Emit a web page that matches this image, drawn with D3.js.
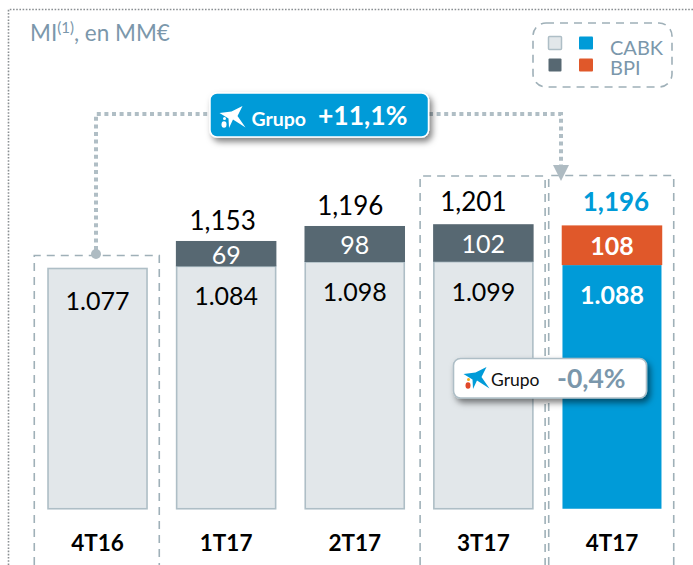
<!DOCTYPE html>
<html><head><meta charset="utf-8">
<script src="https://cdnjs.cloudflare.com/ajax/libs/d3/7.8.5/d3.min.js"></script>
<style>html,body{margin:0;padding:0;background:#fff}svg{display:block}text{font-family:Lato,"Open Sans",sans-serif}</style>
</head><body><div id="c"></div>
<script>
const quarters = ["4T16","1T17","2T17","3T17","4T17"];
const cabk = [1077,1084,1098,1099,1088];
const bpi = [0,69,98,102,108];
const cabkLabels = ["1.077","1.084","1.098","1.099","1.088"];
const bpiLabels = ["","69","98","102","108"];
const totalLabels = ["","1,153","1,196","1,201","1,196"];
const legendItems = ["CABK","BPI"];
const growthLabels = ["+11,1%","-0,4%"];

const W=693,H=565;
const BLUE="#009bd8",ORANGE="#e0582a",SLATE="#576872",LIGHT="#e2e7ea",EDGE="#aebec6",DASH="#9fb0b8",TXT="#7b97ab";
const svg=d3.select("#c").append("svg").attr("width",W).attr("height",H);
const defs=svg.append("defs");
const f=defs.append("filter").attr("id","sh").attr("x","-10%").attr("y","-30%").attr("width","125%").attr("height","170%");
f.append("feDropShadow").attr("dx",3).attr("dy",4).attr("stdDeviation",3).attr("flood-color","#000").attr("flood-opacity",.5);

// scales: the source's bars are not to a common scale, so CABK and BPI each get their own
const x=d3.scaleBand().domain(quarters).range([33.25,676.25]).paddingInner(.2185).paddingOuter(.109);
const baseY=509.5;
const yCabk=d3.scaleLinear().domain([1077,1099]).range([241,247.8]);
const hBpi=d3.scaleLinear().domain([0,108]).range([0,39.7]);
const topCabk=i=>baseY-yCabk(cabk[i]);
const topAll=i=>topCabk(i)-hBpi(bpi[i]);

// outer dotted frame
svg.append("path").attr("d",`M8.5,${H}V9.5H${W}`).attr("fill","none").attr("stroke","#8a8f92").attr("stroke-width",1.6).attr("stroke-dasharray","1.6 1.6");

// title
const t=svg.append("text").attr("x",30).attr("y",41).attr("fill",TXT).attr("font-size",22.5);
t.append("tspan").text("MI");
t.append("tspan").attr("font-size",15).attr("dy",-8).text("(1)");
t.append("tspan").attr("dy",8).text(", en MM€");

// dashed frames
const dashed=p=>svg.append("path").attr("d",p).attr("fill","none").attr("stroke",DASH).attr("stroke-width",1.6).attr("stroke-dasharray","8 6");
const frame=(q,top)=>{const a=x(q)-13,b=x(q)+x.bandwidth()+11.5;dashed(`M${a},${H}V${top}H${b}V${H}`);};
frame("4T16",255.5);frame("3T17",176);frame("4T17",175.5);

// legend box
svg.append("rect").attr("x",533).attr("y",23).attr("width",139).attr("height",64).attr("rx",13)
 .attr("fill","none").attr("stroke",DASH).attr("stroke-width",1.6).attr("stroke-dasharray","8 6");
const legendCols=[[LIGHT,BLUE],[SLATE,ORANGE]];
legendCols.forEach((row,r)=>{
  row.forEach((c,k)=>svg.append("rect").attr("x",k?579:548.5).attr("y",36.5+r*22).attr("width",k?14:13).attr("height",13).attr("rx",1)
    .attr("fill",c).attr("stroke",c===LIGHT?EDGE:"none").attr("stroke-width",1.5));
  svg.append("text").attr("x",610).attr("y",r?75:55).attr("fill",TXT).attr("font-size",20).text(legendItems[r]);
});

// connector
const conn=svg.append("g").attr("fill","none").attr("stroke","#b0bec5").attr("stroke-width",4).attr("stroke-dasharray","4 3.6");
conn.append("path").attr("d","M96,250V114H210");
conn.append("path").attr("d","M429,114H561V166");
svg.append("circle").attr("cx",96).attr("cy",254).attr("r",5).attr("fill","#aebbc2");
svg.append("path").attr("d","M553,165H569L561,181Z").attr("fill","#aebbc2");

// bars
const g=svg.selectAll("g.bar").data(quarters).join("g").attr("class","bar");
g.append("rect").attr("x",d=>x(d)+.75).attr("width",x.bandwidth()-1.5)
  .attr("y",(d,i)=>topCabk(i)).attr("height",(d,i)=>baseY-topCabk(i)-.75)
  .attr("fill",(d,i)=>i===4?BLUE:LIGHT).attr("stroke",(d,i)=>i===4?"none":EDGE).attr("stroke-width",1.6);
g.append("rect").attr("x",d=>x(d)).attr("width",x.bandwidth())
  .attr("y",(d,i)=>topAll(i)).attr("height",(d,i)=>hBpi(bpi[i]))
  .attr("fill",(d,i)=>i===4?ORANGE:SLATE);
const cx=d=>x(d)+x.bandwidth()/2;
const totalShift=[0,-3.5,-4.5,-10,4];
g.append("text").attr("x",cx).attr("y",(d,i)=>topCabk(i)+(i===0?31:29)).attr("text-anchor","middle").attr("dominant-baseline","central")
  .attr("font-size",25).attr("font-weight",(d,i)=>i===4?700:400).attr("fill",(d,i)=>i===4?"#fff":"#000").text((d,i)=>cabkLabels[i]);
g.append("text").attr("x",cx).attr("y",(d,i)=>topAll(i)+hBpi(bpi[i])/2).attr("text-anchor","middle").attr("dominant-baseline","central")
  .attr("font-size",25).attr("font-weight",(d,i)=>i===4?700:400).attr("fill","#fff").text((d,i)=>bpiLabels[i]);
g.append("text").attr("x",(d,i)=>cx(d)+totalShift[i]).attr("y",(d,i)=>topAll(i)-(i<3?21:i===3?23:24)).attr("text-anchor","middle").attr("dominant-baseline","central")
  .attr("font-size",26).attr("font-weight",(d,i)=>i===4?700:400).attr("fill",(d,i)=>i===4?BLUE:"#000").text((d,i)=>totalLabels[i]);

// category axis
const ax=svg.append("g").attr("transform","translate(0,542)").call(d3.axisBottom(x).tickSize(0).tickPadding(0));
ax.select(".domain").remove();
ax.selectAll("text").attr("dy",0).attr("y",0).attr("dominant-baseline","central").attr("font-family","Lato").attr("font-size",22.5).attr("font-weight",700).attr("fill","#000");

// logo mark
const logo=(px,py,col,dots)=>{
  const l=svg.append("g").attr("transform",`translate(${px},${py})`);
  l.append("path").attr("d","M0,7 L12,5.5 L23,0 L18,10 L26,21.5 L13.5,13.5 L9.5,22 L9,12.5 Z").attr("fill",col);
  l.append("circle").attr("cx",5).attr("cy",12.5).attr("r",1.5).attr("fill",dots[0]);
  l.append("ellipse").attr("cx",4.5).attr("cy",18.5).attr("rx",2.5).attr("ry",3.2).attr("fill",dots[1]);
};

// blue badge
svg.append("rect").attr("x",210).attr("y",93).attr("width",218.5).attr("height",44).attr("rx",7)
  .attr("fill",BLUE).attr("stroke","#fff").attr("stroke-width",1.5).attr("filter","url(#sh)");
logo(219.5,106,"#fff",["#fff","#fff"]);
svg.append("text").attr("x",251.5).attr("y",126).attr("fill","#fff").attr("font-size",19.5).attr("font-weight",700).text("Grupo");
svg.append("text").attr("x",318).attr("y",125).attr("fill","#fff").attr("font-size",26.5).attr("font-weight",700).text(growthLabels[0]);

// white badge
svg.append("rect").attr("x",453.5).attr("y",358.5).attr("width",193).attr("height",39.5).attr("rx",7)
  .attr("fill","#fff").attr("stroke","#aebec6").attr("stroke-width",1.6).attr("filter","url(#sh)");
logo(463.5,367,BLUE,["#f2b01e","#e0482a"]);
svg.append("text").attr("x",491).attr("y",386).attr("fill","#111").attr("font-size",17.5).text("Grupo");
svg.append("text").attr("x",557).attr("y",388).attr("fill",TXT).attr("font-size",26.5).attr("font-weight",700).text(growthLabels[1]);
</script></body></html>
